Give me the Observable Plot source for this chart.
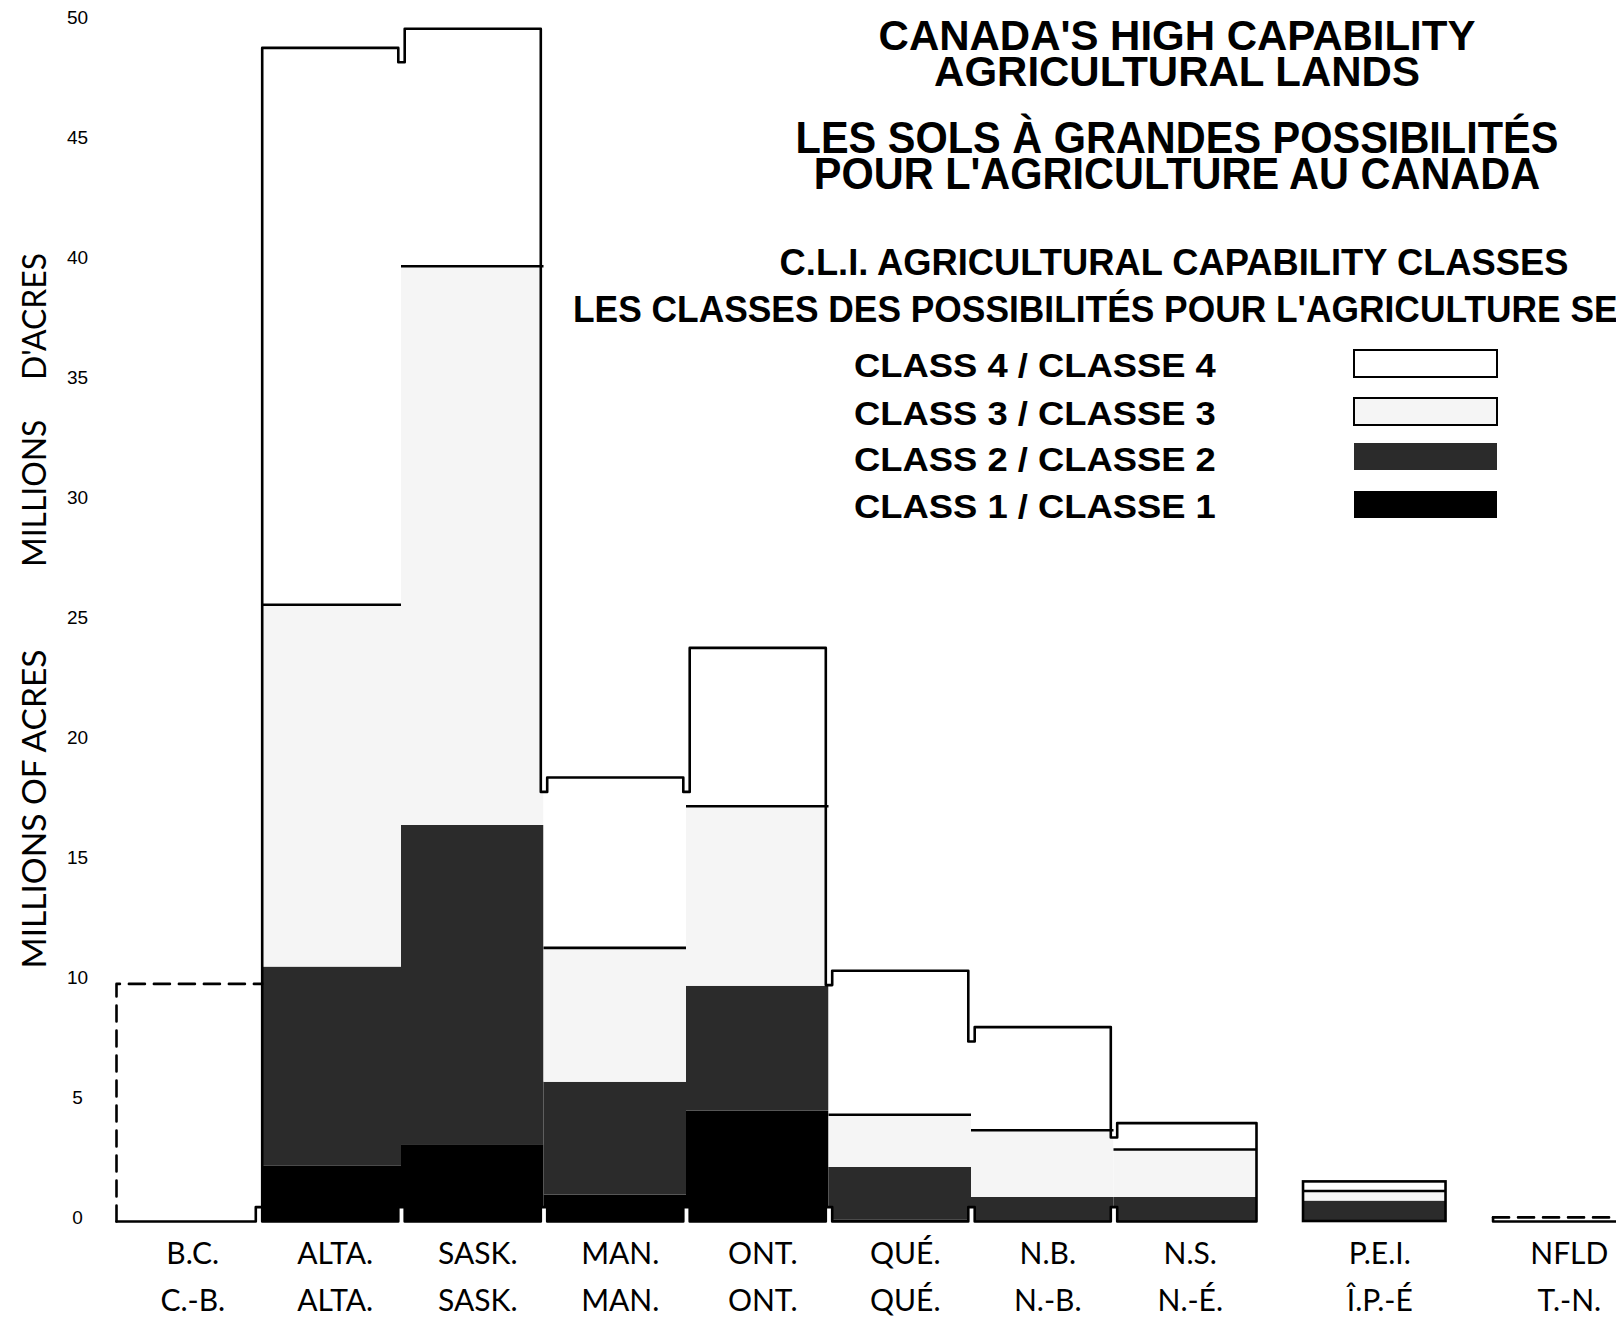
<!DOCTYPE html>
<html>
<head>
<meta charset="utf-8">
<script src="https://cdn.jsdelivr.net/npm/d3@7"></script>
<script src="https://cdn.jsdelivr.net/npm/@observablehq/plot@0.6"></script>
<style>
html, body { margin: 0; padding: 0; background: #fff; overflow: hidden; width: 1616px; height: 1332px; }
#chart { position: relative; width: 1616px; height: 1332px; overflow: hidden; }
</style>
</head>
<body>
<div id="chart"></div>
<script>
// ---------------- DATA (millions of acres) ----------------
const provinces   = ["B.C.", "ALTA.", "SASK.", "MAN.", "ONT.", "QUÉ.", "N.B.", "N.S.", "P.E.I.", "NFLD"];
const provincesFr = ["C.-B.", "ALTA.", "SASK.", "MAN.", "ONT.", "QUÉ.", "N.-B.", "N.-É.", "Î.P.-É", "T.-N."];
const clusters    = [0, 0, 0, 0, 0, 0, 0, 0, 1, 2];   // contiguous groups of bars
const classNames  = ["CLASS 1 / CLASSE 1", "CLASS 2 / CLASSE 2", "CLASS 3 / CLASSE 3", "CLASS 4 / CLASSE 4"];
const class1 = [null, 2.3, 3.2, 1.1, 4.6, 0.05, 0, 0, 0, null];
const class2 = [null, 8.3, 13.3, 4.7, 5.2, 2.2, 1.0, 1.0, 0.85, null];
const class3 = [null, 15.1, 23.3, 5.6, 7.5, 2.2, 2.8, 2.0, 0.42, null];
const class4 = [null, 23.2, 9.9, 7.1, 6.6, 6.0, 4.3, 1.1, 0.38, null];
const unclassifiedTotal = [9.9, null, null, null, null, null, null, null, null, 0.17]; // dashed outlines
const yTicks = [0, 5, 10, 15, 20, 25, 30, 35, 40, 45, 50];
const titleEn = ["CANADA'S HIGH CAPABILITY", "AGRICULTURAL LANDS"];
const titleFr = ["LES SOLS À GRANDES POSSIBILITÉS", "POUR L'AGRICULTURE AU CANADA"];
const legendTitle = ["C.L.I. AGRICULTURAL CAPABILITY CLASSES",
                     "LES CLASSES DES POSSIBILITÉS POUR L'AGRICULTURE SELON L'I.T.C."];
const axisTitles = ["MILLIONS OF ACRES", "MILLIONS\u2003\u2002D'ACRES"];

// ---------------- derived ----------------
const series = [class1, class2, class3, class4];
const classFills = ["#000000", "#2b2b2b", "#f5f5f5", "#ffffff"];
const clusterGap = 0.33;
const gN = 0.045;   // notch width (band units)
const nh = 0.6;     // bottom notch height
const nd = 0.6;     // top notch depth
const L = i => i + clusterGap * clusters[i];
const R = i => L(i) + 1;
const C = i => L(i) + 0.5;
const hasClasses = i => class1[i] != null;
const total = i => hasClasses(i) ? series.reduce((s, a) => s + a[i], 0) : unclassifiedTotal[i];
const contiguousPrev = i => i > 0 && clusters[i - 1] === clusters[i];
const leftInset = i => (contiguousPrev(i) && !hasClasses(i - 1)) ? gN / 2 : 0;

const stack = [];
provinces.forEach((p, i) => {
  if (!hasClasses(i)) return;
  let y = 0;
  series.forEach((a, k) => {
    stack.push({i, cls: classNames[k], x1: L(i) + leftInset(i), x2: R(i), y1: y, y2: y + a[i]});
    y += a[i];
  });
});

// skyline outline of the main (contiguous) group of bars
const main = provinces.map((p, i) => i).filter(i => clusters[i] === 0);
const first = main[0], last = main[main.length - 1];
const firstCls = main.find(hasClasses);
const outline = [];
const bottomNotches = [], topNotches = [];
outline.push({x: L(first), y: 0});
for (let k = first + 1; k <= last; k++) {
  const b = L(k);
  outline.push({x: b - gN / 2, y: 0}, {x: b - gN / 2, y: nh}, {x: b + gN / 2, y: nh}, {x: b + gN / 2, y: 0});
  bottomNotches.push({x1: b - gN / 2, x2: b + gN / 2, y1: 0, y2: nh});
}
outline.push({x: R(last), y: 0}, {x: R(last), y: total(last)});
for (let k = last; k > firstCls; k--) {
  const b = L(k), m = Math.min(total(k - 1), total(k));
  outline.push({x: b + gN / 2, y: total(k)}, {x: b + gN / 2, y: m - nd}, {x: b - gN / 2, y: m - nd}, {x: b - gN / 2, y: total(k - 1)});
  topNotches.push({x1: b - gN / 2, x2: b + gN / 2, y1: m - nd, y2: Math.max(total(k - 1), total(k)) + 0.3});
}
outline.push({x: L(firstCls) + leftInset(firstCls), y: total(firstCls)}, {x: L(firstCls) + leftInset(firstCls), y: nh});

// dashed (unclassified) outlines
const dashed = [], solidBits = [];
provinces.forEach((p, i) => {
  if (hasClasses(i)) return;
  const t = total(i);
  if (i === first) {
    dashed.push([{x: L(i), y: 0}, {x: L(i), y: t}, {x: R(i) + gN / 2, y: t}]);
  } else {
    dashed.push([{x: L(i), y: t}, {x: R(i), y: t}]);
    solidBits.push([{x: L(i), y: t}, {x: L(i), y: 0}, {x: R(i), y: 0}]);
  }
});

// separate classified boxes (P.E.I.)
const boxes = provinces.map((p, i) => i).filter(i => hasClasses(i) && clusters[i] !== 0)
  .map(i => ({x1: L(i), x2: R(i), y1: 0, y2: total(i)}));
const c3Lines = provinces.map((p, i) => i).filter(hasClasses)
  .map(i => ({x1: L(i) + leftInset(i), x2: R(i), y: class1[i] + class2[i] + class3[i]}));

const lineMarks = [];
dashed.forEach(d => lineMarks.push(Plot.line(d, {x: "x", y: "y", stroke: "#000", strokeWidth: 2.6, strokeDasharray: "16,9", curve: "linear"})));
solidBits.forEach(d => lineMarks.push(Plot.line(d, {x: "x", y: "y", stroke: "#000", strokeWidth: 2.6, curve: "linear"})));

const labelFont = "Lato, 'Open Sans', sans-serif";
const plot = Plot.plot({
  width: 1616, height: 1332,
  marginLeft: 116, marginRight: 0, marginTop: 21, marginBottom: 111,
  x: {domain: [0, R(provinces.length - 1)], range: [116, 116 + 142.5 * R(provinces.length - 1)], axis: null},
  y: {domain: [0, 50], range: [1221, 21], axis: null},
  color: {domain: classNames, range: classFills},
  style: {background: "#fff", color: "#000"},
  marks: [
    Plot.rect(stack, {x1: "x1", x2: "x2", y1: "y1", y2: "y2", fill: "cls"}),
    Plot.rect(bottomNotches, {x1: "x1", x2: "x2", y1: "y1", y2: "y2", fill: "#fff"}),
    Plot.rect(topNotches, {x1: "x1", x2: "x2", y1: "y1", y2: "y2", fill: "#fff"}),
    Plot.ruleY(c3Lines, {y: "y", x1: "x1", x2: "x2", stroke: "#000", strokeWidth: 2.6}),
    Plot.rect(boxes, {x1: "x1", x2: "x2", y1: "y1", y2: "y2", fill: "none", stroke: "#000", strokeWidth: 2.6}),
    Plot.line(outline, {x: "x", y: "y", stroke: "#000", strokeWidth: 2.6, curve: "linear"}),
    ...lineMarks,
    Plot.axisY(yTicks, {tickSize: 0, tickPadding: 39, textAnchor: "middle", fontSize: 19, dy: -4,
      fontFamily: "'Liberation Sans', Arial, sans-serif", fill: "#000", label: null}),
    Plot.text(provinces, {x: (d, i) => C(i), frameAnchor: "bottom", dy: 33, dx: 5, text: d => d,
      fontSize: 30, fontFamily: labelFont, fill: "#000", lineAnchor: "middle"}),
    Plot.text(provincesFr, {x: (d, i) => C(i), frameAnchor: "bottom", dy: 80, dx: 5, text: d => d,
      fontSize: 30, fontFamily: labelFont, fill: "#000", lineAnchor: "middle"})
  ]
});
document.getElementById("chart").appendChild(plot);

// ---------------- titles, legend, axis titles ----------------
const svg = d3.select(plot);
const condensed = "'Liberation Sans Narrow', 'Liberation Sans', Arial, sans-serif";
// one <text> per block; lines are tspans, squeezed horizontally to the reference width
function fitBlock(lines, o) {
  const g = svg.append("g");
  const t = g.append("text")
    .attr("font-size", o.size).attr("font-weight", o.weight || "bold")
    .attr("font-family", o.family || condensed).attr("fill", "#000")
    .attr("text-anchor", o.anchor || "middle").style("white-space", "pre");
  const spans = lines.map((s, j) => t.append("tspan").attr("x", 0).attr("y", j * (o.lead || 0)).text(s));
  let w;
  if (o.prefixLen) w = t.node().getSubStringLength(0, o.prefixLen);
  else w = spans[0].node().getComputedTextLength();
  const sx = o.width / w;
  g.attr("transform", `translate(${o.x},${o.y}) rotate(${o.rotate || 0}) scale(${sx},1)`);
  return t;
}
fitBlock(titleEn, {x: 1177, y: 49.5, lead: 36, size: 43, width: 597});
fitBlock(titleFr, {x: 1177, y: 152.5, lead: 36, size: 44, width: 763});
fitBlock([legendTitle[0]], {x: 1174, y: 275, size: 37, width: 789});
fitBlock([legendTitle[1]], {x: 573, y: 321.5, size: 37, width: 1045, anchor: "start",
  prefixLen: "LES CLASSES DES POSSIBILITÉS POUR L'AGRICULTURE SE".length});

const color = plot.scale("color");
const legendRows = [3, 2, 1, 0];
const rowBase = [377, 425, 471, 518];
const boxTop = [350, 398, 443, 491];
legendRows.forEach((k, r) => {
  fitBlock([classNames[k]], {x: 854, y: rowBase[r], size: 34, width: 362, anchor: "start"});
  svg.append("rect").attr("x", 1354).attr("y", boxTop[r]).attr("width", 143).attr("height", 27)
    .attr("fill", color.apply(classNames[k]))
    .attr("stroke", k >= 2 ? "#000" : "none").attr("stroke-width", 2);
});

fitBlock([axisTitles[0]], {x: 46, y: 809, size: 33, width: 319, rotate: -90, weight: "normal", family: labelFont});
fitBlock([axisTitles[1]], {x: 46, y: 410, size: 33, width: 314, rotate: -90, weight: "normal", family: labelFont});
</script>
</body>
</html>
